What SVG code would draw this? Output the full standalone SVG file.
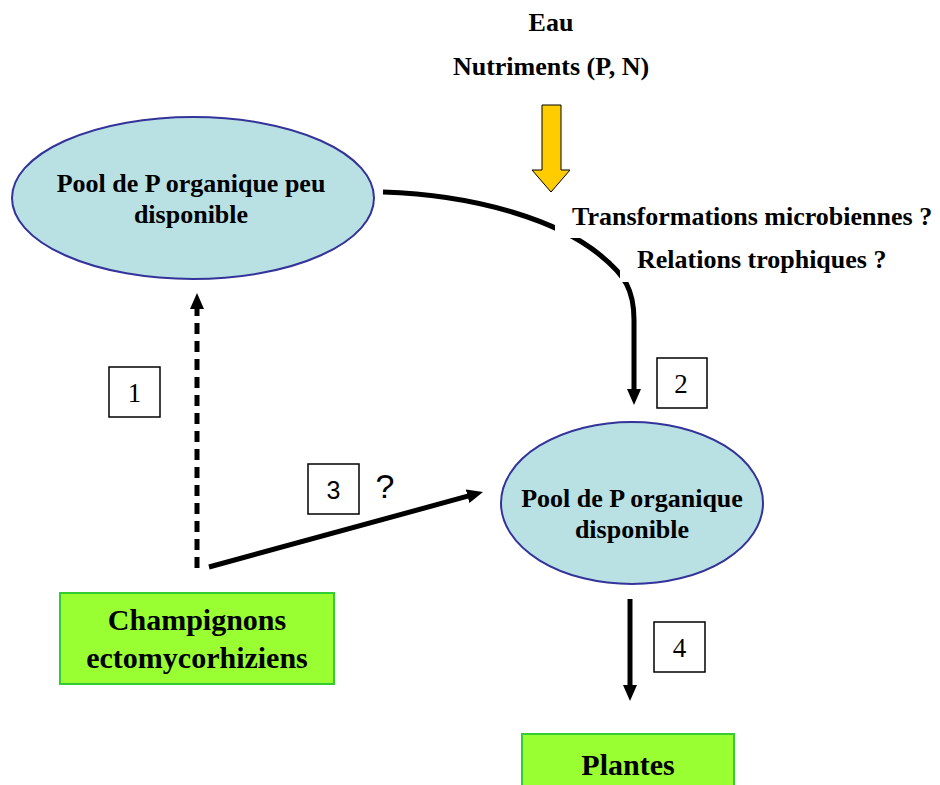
<svg xmlns="http://www.w3.org/2000/svg" width="940" height="785" viewBox="0 0 940 785">
<style>
.t{font-family:"Liberation Serif","Times New Roman",serif;font-weight:bold;fill:#000}
.n{font-family:"Liberation Serif","Times New Roman",serif;fill:#000}
.s{font-family:"Liberation Sans",Arial,sans-serif;fill:#000}
.pool{fill:#B9E0E3;stroke:#333399;stroke-width:2}
.green{fill:#99FF33;stroke:#33CC33;stroke-width:2}
.num{fill:#fff;stroke:#000;stroke-width:1.5}
.conn{fill:none;stroke:#000;stroke-width:5}
</style>
<defs>
<marker id="ah" viewBox="0 0 16 14" refX="2" refY="7" markerWidth="16" markerHeight="14" markerUnits="userSpaceOnUse" orient="auto">
<path d="M0,0 L16,7 L0,14 z" fill="#000"/>
</marker>
</defs>
<rect width="940" height="785" fill="#fff"/>
<g id="connectors">
<path class="conn" d="M383,192 C480,195 560,222 600,255 C625,275 634,290 634,320 L634,391" marker-end="url(#ah)"/>
<path class="conn" d="M197,568 L197,307" stroke-width="4" stroke-dasharray="11,7" marker-end="url(#ah)"/>
<path class="conn" d="M209,567 L469.5,495.7" marker-end="url(#ah)"/>
<path class="conn" d="M630,599 L630,687" marker-end="url(#ah)"/>
<polygon points="542,105 561,105 561,170 570,170 551,192 532,170 542,170" fill="#FFCC00" stroke="#000" stroke-width="1"/>
</g>
<g id="inputs">
<text class="t" x="551" y="31" font-size="26" text-anchor="middle">Eau</text>
<text class="t" x="551" y="75" font-size="26" text-anchor="middle">Nutriments (P, N)</text>
</g>
<g id="processes">
<rect x="555" y="200" width="385" height="38" fill="#fff"/>
<rect x="620" y="240" width="270" height="42" fill="#fff"/>
<text class="t" x="572" y="225" font-size="26">Transformations microbiennes ?</text>
<text class="t" x="637" y="268" font-size="26">Relations trophiques ?</text>
</g>
<g id="pool-peu">
<ellipse class="pool" cx="193" cy="198" rx="181" ry="81"/>
<text class="t" x="191" y="192" font-size="26" text-anchor="middle">Pool de P organique peu</text>
<text class="t" x="191" y="223" font-size="26" text-anchor="middle">disponible</text>
</g>
<g id="pool-disponible">
<ellipse class="pool" cx="632" cy="503" rx="131" ry="81"/>
<text class="t" x="632" y="507" font-size="26" text-anchor="middle">Pool de P organique</text>
<text class="t" x="632" y="538" font-size="26" text-anchor="middle">disponible</text>
</g>
<g id="champignons">
<rect class="green" x="60" y="593" width="274" height="91"/>
<text class="t" x="197" y="630" font-size="30" text-anchor="middle">Champignons</text>
<text class="t" x="197" y="668" font-size="30" text-anchor="middle">ectomycorhiziens</text>
</g>
<g id="plantes">
<rect class="green" x="522" y="734" width="212" height="60"/>
<text class="t" x="628" y="775" font-size="30" text-anchor="middle">Plantes</text>
</g>
<g id="label-1">
<rect class="num" x="109" y="367" width="51" height="50"/>
<text class="n" x="134.5" y="402" font-size="27" text-anchor="middle">1</text>
</g>
<g id="label-2">
<rect class="num" x="657" y="358" width="50" height="50"/>
<text class="n" x="681" y="393" font-size="27" text-anchor="middle">2</text>
</g>
<g id="label-3">
<rect class="num" x="308" y="464" width="51" height="50"/>
<text class="s" x="333.5" y="499" font-size="25" text-anchor="middle">3</text>
<text class="s" x="385" y="498" font-size="34" text-anchor="middle">?</text>
</g>
<g id="label-4">
<rect class="num" x="654" y="622" width="51" height="50"/>
<text class="n" x="679.5" y="657" font-size="27" text-anchor="middle">4</text>
</g>
</svg>
